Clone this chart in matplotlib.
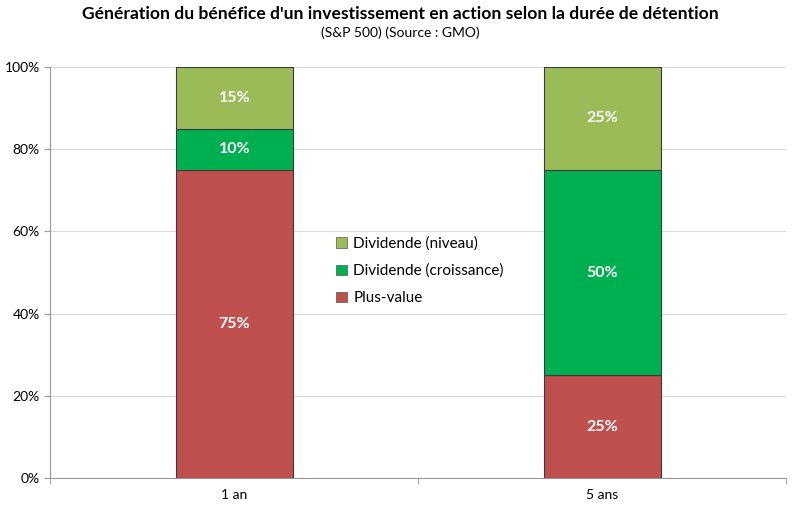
import numpy as np
import matplotlib.pyplot as plt
from matplotlib.patches import Patch

# données
categories = ["1 an", "5 ans"]
plus_value = [75, 25]
div_croissance = [10, 50]
div_niveau = [15, 25]
yticks = [0, 20, 40, 60, 80, 100]

plt.rcParams['font.family'] = ['Lato', 'DejaVu Sans']

c_red = '#C0504D'
c_green = '#00B050'
c_olive = '#9BBB59'

fig = plt.figure(figsize=(8, 5.07), dpi=100)
ax = fig.add_axes([0.063, 0.057, 0.92, 0.811])

x = np.arange(len(categories))
w = 0.318
series = [(plus_value, c_red, "Plus-value"),
          (div_croissance, c_green, "Dividende (croissance)"),
          (div_niveau, c_olive, "Dividende (niveau)")]
bottom = np.zeros(len(categories))
for vals, col, lab in series:
    vals = np.array(vals)
    ax.bar(x, vals, w, bottom=bottom, color=col, edgecolor='#3a3a3a',
           linewidth=0.8, zorder=3, label=lab)
    for xi, b, v in zip(x, bottom, vals):
        ax.text(xi, b + v / 2, f"{v}%", ha='center', va='center',
                color='white', fontsize=11.5, fontweight='bold', zorder=4)
    bottom += vals

ax.set_xlim(-0.5, 1.5)
ax.set_ylim(0, 100)
ax.set_yticks(yticks)
ax.set_yticklabels([f"{v}%" for v in yticks], fontsize=10)
ax.set_xticks(x)
ax.set_xticklabels(categories, fontsize=10)
ax.tick_params(axis='x', length=0, pad=8)
ax.tick_params(axis='y', length=4, color='#999999', direction='out')
ax.set_xticks([-0.5, 0.5, 1.5], minor=True)
ax.tick_params(axis='x', which='minor', length=4, color='#999999')
ax.grid(axis='y', color='#d9d9d9', linewidth=0.8, zorder=0)
for s in ['top', 'right']:
    ax.spines[s].set_visible(False)
ax.spines['left'].set_color('#999999')
ax.spines['bottom'].set_color('#999999')

handles = [Patch(facecolor=c_olive, edgecolor='#555555', linewidth=0.5),
           Patch(facecolor=c_green, edgecolor='#555555', linewidth=0.5),
           Patch(facecolor=c_red, edgecolor='#555555', linewidth=0.5)]
labels = ["Dividende (niveau)", "Dividende (croissance)", "Plus-value"]
ax.legend(handles, labels, loc='center left', bbox_to_anchor=(0.37, 0.504),
          frameon=False, fontsize=11, handlelength=0.7, handleheight=0.7,
          handletextpad=0.4, labelspacing=0.85)

fig.text(0.5, 0.973, "Génération du bénéfice d'un investissement en action selon la durée de détention",
         ha='center', va='center', fontsize=12.6, fontweight='bold')
fig.text(0.5, 0.935, "(S&P 500) (Source : GMO)", ha='center', va='center', fontsize=10)

fig.savefig("out.png", dpi=100)
